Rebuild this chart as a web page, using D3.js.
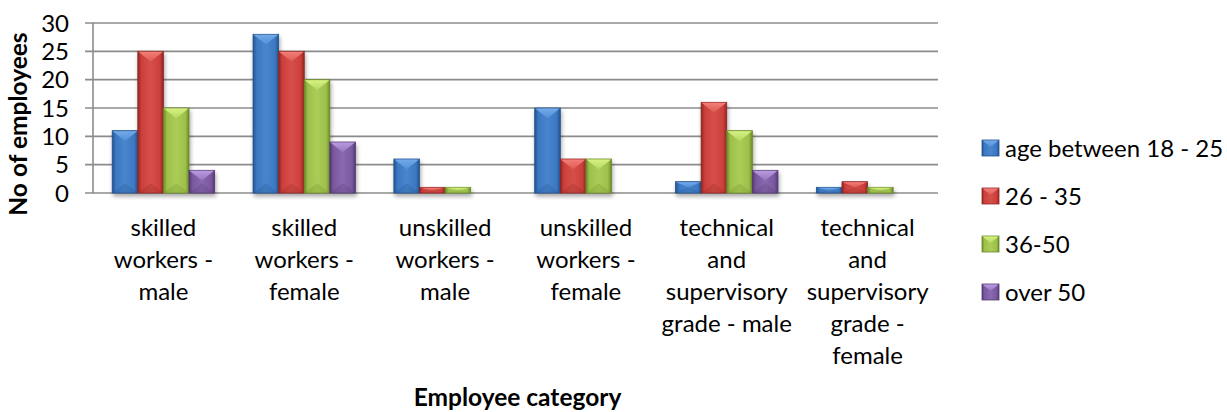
<!DOCTYPE html>
<html>
<head>
<meta charset="utf-8">
<script src="https://cdn.jsdelivr.net/npm/d3@7"></script>
<style>
  body { margin: 0; background: #fff; }
  svg { display: block; font-family: Lato, "Open Sans", sans-serif; }
</style>
</head>
<body>
<svg width="1227" height="412"></svg>
<script>
// chart data
const categories = [
  "skilled\nworkers -\nmale",
  "skilled\nworkers -\nfemale",
  "unskilled\nworkers -\nmale",
  "unskilled\nworkers -\nfemale",
  "technical\nand\nsupervisory\ngrade - male",
  "technical\nand\nsupervisory\ngrade -\nfemale"
];
const seriesNames = ["age between 18 - 25", "26 - 35", "36-50", "over 50"];
const age18to25 = [11, 28, 6, 15, 2, 1];
const age26to35 = [25, 25, 1, 6, 16, 2];
const age36to50 = [15, 20, 1, 6, 11, 1];
const over50    = [4, 9, 0, 0, 4, 0];
const yTicks = [0, 5, 10, 15, 20, 25, 30];

const seriesValues = [age18to25, age26to35, age36to50, over50];
const colors = [
  { base: "#3b78c3", light: "#72aaea", dark: "#24528c" },
  { base: "#cc3f3b", light: "#f27e78", dark: "#8e2623" },
  { base: "#9dc04a", light: "#d6f282", dark: "#6b8a2a" },
  { base: "#7a589f", light: "#b99ae0", dark: "#523a70" }
];

const plot = { left: 93, right: 938, top: 23, bottom: 193 };
const fontSize = 24;

const svg = d3.select("svg");
const defs = svg.append("defs");

colors.forEach((c, i) => {
  const g = defs.append("linearGradient").attr("id", "body" + i)
                .attr("x1", 0).attr("x2", 1).attr("y1", 0).attr("y2", 0);
  g.append("stop").attr("offset", "0%").attr("stop-color", c.dark);
  g.append("stop").attr("offset", "14%").attr("stop-color", c.base);
  g.append("stop").attr("offset", "50%").attr("stop-color", d3.interpolateRgb(c.base, c.light)(0.25));
  g.append("stop").attr("offset", "86%").attr("stop-color", c.base);
  g.append("stop").attr("offset", "100%").attr("stop-color", c.dark);

  const t = defs.append("linearGradient").attr("id", "top" + i)
                .attr("x1", 0).attr("x2", 0).attr("y1", 0).attr("y2", 1);
  t.append("stop").attr("offset", "0%").attr("stop-color", c.light);
  t.append("stop").attr("offset", "100%").attr("stop-color", d3.interpolateRgb(c.base, c.light)(0.45));
});

const shadow = defs.append("filter").attr("id", "shadow")
                   .attr("x", "-20%").attr("y", "-20%").attr("width", "140%").attr("height", "140%");
shadow.append("feDropShadow").attr("dx", 1).attr("dy", 3).attr("stdDeviation", 2)
      .attr("flood-color", "#000").attr("flood-opacity", 0.35);

const xScale = d3.scaleBand()
                 .domain(d3.range(categories.length))
                 .range([plot.left, plot.right]);

const barW = xScale.bandwidth() / 5.5;
const xInner = d3.scaleBand()
                 .domain(d3.range(seriesNames.length))
                 .range([barW * 0.75, barW * 4.75]);

const yScale = d3.scaleLinear()
                 .domain([0, 30])
                 .range([plot.bottom, plot.top]);

// gridlines + tick marks
svg.append("g")
   .selectAll("line")
   .data(yTicks)
   .enter()
   .append("line")
   .attr("x1", plot.left - 8)
   .attr("x2", plot.right)
   .attr("y1", d => yScale(d))
   .attr("y2", d => yScale(d))
   .attr("stroke", "#8c8c8c")
   .attr("stroke-width", 1.6);

svg.append("line")
   .attr("x1", plot.left).attr("x2", plot.left)
   .attr("y1", yScale(30)).attr("y2", yScale(0))
   .attr("stroke", "#8c8c8c")
   .attr("stroke-width", 1.6);

// y tick labels
svg.append("g")
   .selectAll("text")
   .data(yTicks)
   .enter()
   .append("text")
   .attr("x", 69)
   .attr("y", d => yScale(d))
   .attr("dy", "0.36em")
   .attr("text-anchor", "end")
   .attr("font-size", fontSize)
   .attr("fill", "#000")
   .text(d => d);

// bars
const bars = [];
seriesValues.forEach((vals, s) => {
  vals.forEach((v, c) => {
    if (v > 0) bars.push({ s, c, v });
  });
});

const barG = svg.append("g").attr("filter", "url(#shadow)");

const bar = barG.selectAll("g")
                .data(bars)
                .enter()
                .append("g")
                .attr("transform", d => `translate(${xScale(d.c) + xInner(d.s)}, ${yScale(d.v)})`);

bar.append("rect")
   .attr("width", xInner.bandwidth())
   .attr("height", d => yScale(0) - yScale(d.v))
   .attr("fill", d => `url(#body${d.s})`)
   .attr("stroke", d => colors[d.s].dark)
   .attr("stroke-width", 0.8);

// bevel on top
bar.append("path")
   .attr("d", d => {
     const w = xInner.bandwidth();
     const h = yScale(0) - yScale(d.v);
     const b = Math.min(w * 0.4, h / 2);
     return `M0.5,0.5 L${w - 0.5},0.5 L${w / 2},${b} Z`;
   })
   .attr("fill", d => `url(#top${d.s})`);

// darker bevel at bottom
bar.append("path")
   .attr("d", d => {
     const w = xInner.bandwidth();
     const h = yScale(0) - yScale(d.v);
     const b = Math.min(w * 0.38, h / 2);
     return `M0.5,${h - 0.5} L${w - 0.5},${h - 0.5} L${w / 2},${h - b} Z`;
   })
   .attr("fill", d => colors[d.s].dark)
   .attr("opacity", 0.25);

// category labels
const catLabel = svg.append("g")
                    .selectAll("text")
                    .data(categories)
                    .enter()
                    .append("text")
                    .attr("x", (d, i) => xScale(i) + xScale.bandwidth() / 2)
                    .attr("y", 236)
                    .attr("text-anchor", "middle")
                    .attr("font-size", fontSize)
                    .attr("fill", "#000");

catLabel.selectAll("tspan")
        .data(d => d.split("\n"))
        .enter()
        .append("tspan")
        .attr("x", function () { return this.parentNode.getAttribute("x"); })
        .attr("dy", (d, i) => i === 0 ? 0 : 32)
        .text(d => d);

// axis titles
svg.append("text")
   .attr("x", (plot.left + plot.right) / 2 + 2)
   .attr("y", 406)
   .attr("text-anchor", "middle")
   .attr("font-size", 24.5)
   .attr("font-weight", "bold")
   .text("Employee category");

svg.append("text")
   .attr("transform", "translate(27, 124) rotate(-90)")
   .attr("text-anchor", "middle")
   .attr("font-size", 24.5)
   .attr("font-weight", "bold")
   .text("No of employees");

// legend
const legend = svg.append("g")
                  .selectAll("g")
                  .data(seriesNames)
                  .enter()
                  .append("g")
                  .attr("transform", (d, i) => `translate(982, ${148 + i * 48})`);

legend.append("rect")
      .attr("y", -8)
      .attr("width", 17)
      .attr("height", 16)
      .attr("fill", (d, i) => `url(#body${i})`)
      .attr("stroke", (d, i) => colors[i].dark)
      .attr("stroke-width", 0.8);

legend.append("path")
      .attr("d", "M0.5,-7.5 L16.5,-7.5 L8.5,-1 Z")
      .attr("fill", (d, i) => `url(#top${i})`);

legend.append("text")
      .attr("x", 23)
      .attr("dy", "0.36em")
      .attr("font-size", fontSize)
      .attr("fill", "#000")
      .text(d => d);
</script>
</body>
</html>
